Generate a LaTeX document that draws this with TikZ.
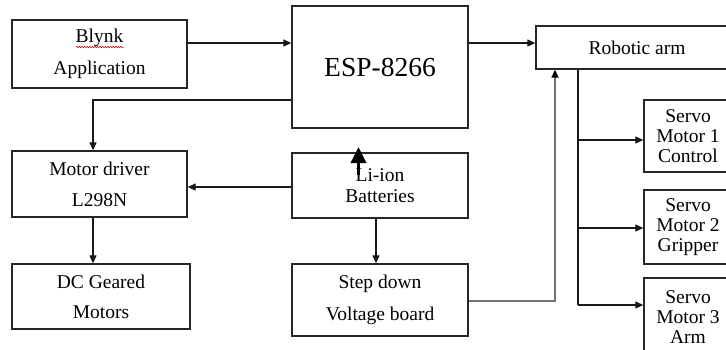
\documentclass[tikz,border=0pt]{standalone}
\usepackage{fontspec}
\setmainfont{Liberation Serif}
\usetikzlibrary{arrows.meta,calc,decorations.pathmorphing}
\begin{document}
\begin{tikzpicture}[x=1pt,y=-1pt,
  box/.style={draw=black!85,line width=1.3pt,inner sep=0pt,align=center,
    font=\fontsize{19.5}{20}\selectfont},
  conn/.style={draw=black!90,line width=1.2pt,-{Triangle[length=8pt,width=7pt]}},
  plain/.style={draw=black!90,line width=1.2pt}]
\useasboundingbox (0,0) rectangle (726,349);
\fill[white] (0,0) rectangle (726,349);
\node[box,minimum width=175pt,minimum height=68pt] (blynk) at (99.5,54)
  {Blynk\\[12pt]Application};
\node[box,minimum width=176pt,minimum height=122pt,font=\fontsize{27.5}{30}\selectfont] (esp) at (380,67)
  {\raisebox{-6pt}{ESP-8266}};
\node[box,minimum width=202pt,minimum height=43pt] (robot) at (637,47.5) {Robotic arm};
\node[box,minimum width=175pt,minimum height=66pt] (motor) at (99.5,184)
  {Motor driver\\[11pt]L298N};
\node[box,minimum width=176pt,minimum height=65pt] (li) at (380,185.5)
  {Li-ion\\[1pt]Batteries};
\node[box,minimum width=178pt,minimum height=65pt] (dc) at (101,296.5)
  {DC Geared\\[10pt]Motors};
\node[box,minimum width=176pt,minimum height=72pt] (step) at (380,300)
  {Step down\\[12pt]Voltage board};
\node[box,minimum width=88pt,minimum height=72pt] (s1) at (688,136)
  {Servo\\Motor 1\\Control};
\node[box,minimum width=88pt,minimum height=74pt] (s2) at (688,227)
  {Servo\\Motor 2\\Gripper};
\node[box,minimum width=88pt,minimum height=78pt] (s3) at (688,317)
  {Servo\\Motor 3\\Arm};
% spell-check underline
\draw[red!80!black,line width=0.5pt,decorate,decoration={snake,amplitude=0.8pt,segment length=2.6pt}]
  (76,47) -- (124,47);
% connectors
\coordinate (bl) at ([yshift=11pt]blynk.east);
\draw[conn] (bl) -- (bl -| esp.west);
\coordinate (ra) at ([yshift=4.5pt]robot.west);
\draw[conn] (ra -| esp.east) -- (ra);
\coordinate (md) at ([xshift=-6.5pt]motor.north);
\draw[conn] ([yshift=-33pt]esp.west) -| (md);
\coordinate (lm) at ([yshift=-1.5pt]li.west);
\draw[conn] (lm) -- (lm -| motor.east);
\draw[conn] ([xshift=-6.5pt]motor.south) -- ([xshift=-8pt]dc.north);
\draw[conn] ([xshift=-4pt]li.south) -- ([xshift=-4pt]step.north);
\coordinate (rs) at ([xshift=-82pt]robot.south);
\draw[draw=black!55,line width=1.5pt,-{Triangle[length=8pt,width=7pt,black]}]
  ([yshift=-1pt]step.east) -| (rs);
\coordinate (rb) at ([xshift=-59pt]robot.south);
\coordinate (s1w) at ([yshift=-4pt]s1.west);
\coordinate (s2w) at ([yshift=-1pt]s2.west);
\coordinate (s3w) at ([yshift=12pt]s3.west);
\draw[plain] (rb) -- (rb |- s3w);
\draw[conn] (rb |- s1w) -- (s1w);
\draw[conn] (rb |- s2w) -- (s2w);
\draw[conn] (rb |- s3w) -- (s3w);
% bold arrow
\coordinate (ba) at (358.5,175);
\coordinate (bb) at (358.5,147);
\draw[line width=3.5pt,-{Triangle[length=16pt,width=15pt]}] (ba) -- (bb);
\end{tikzpicture}
\end{document}
